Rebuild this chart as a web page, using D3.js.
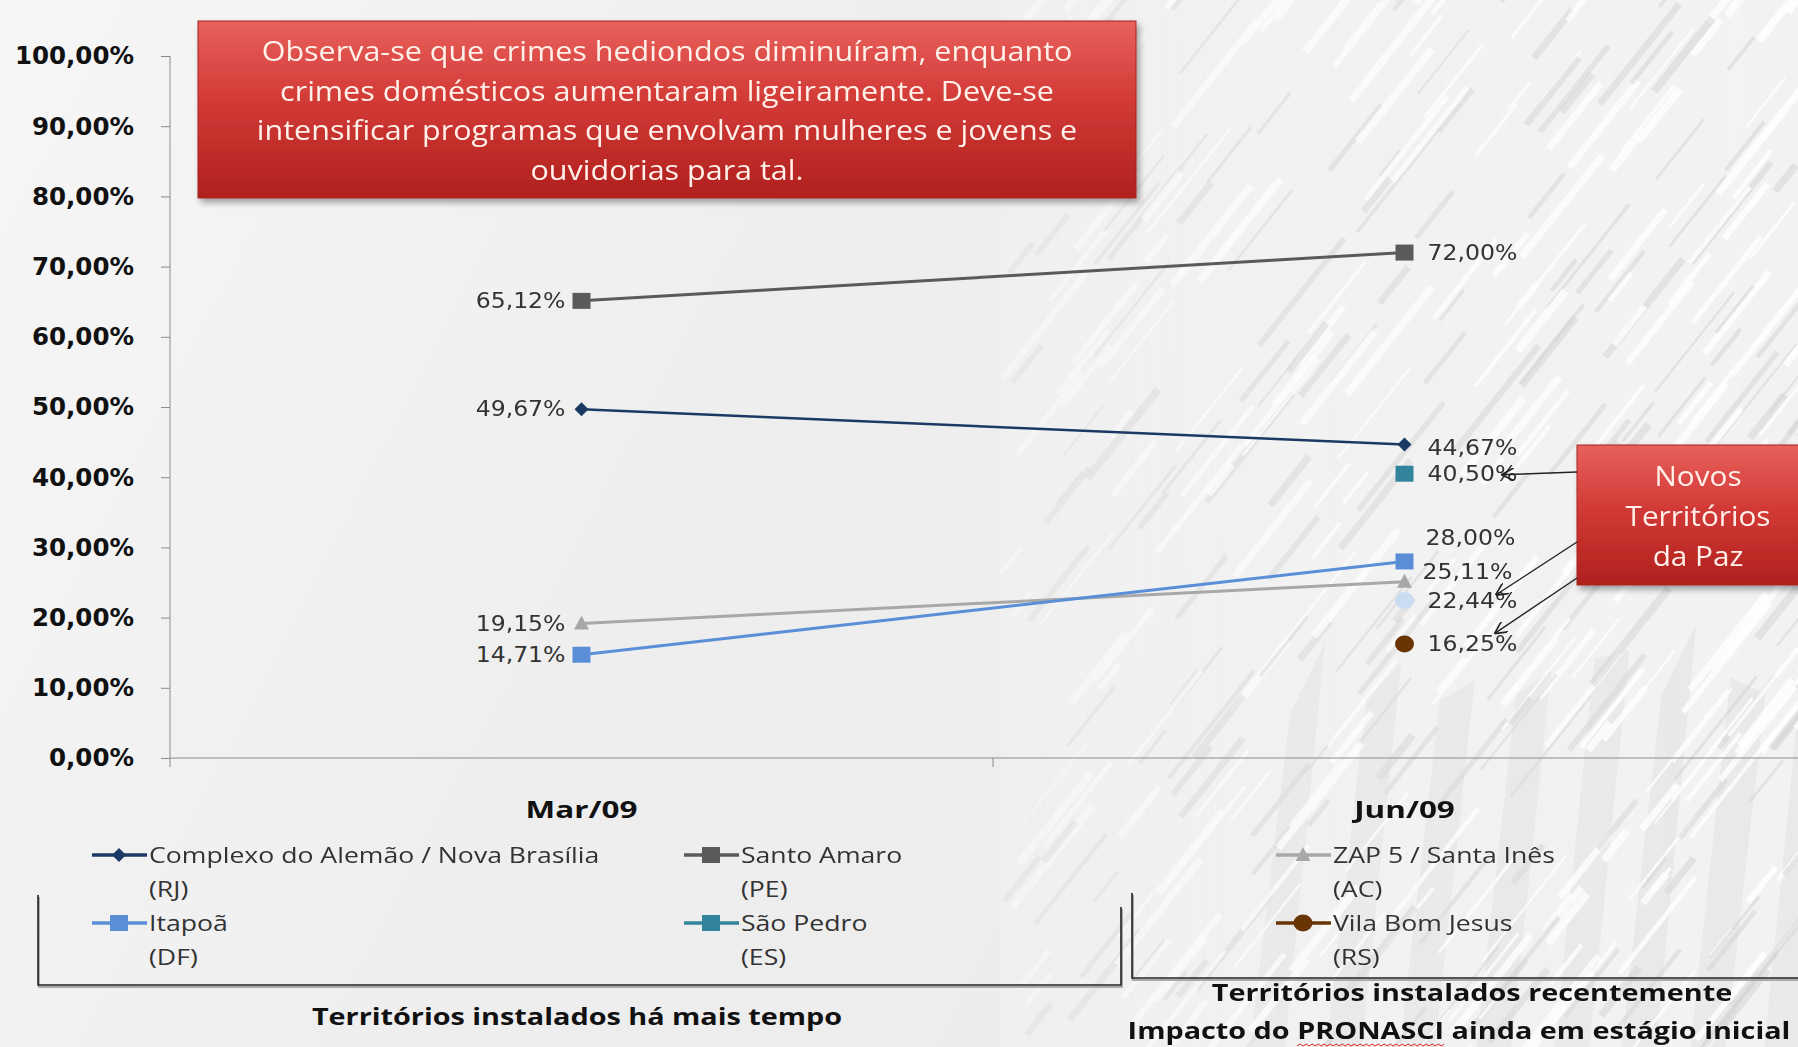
<!DOCTYPE html>
<html>
<head>
<meta charset="utf-8">
<script src="https://cdn.jsdelivr.net/npm/d3@7"></script>
<style>
  body { margin: 0; background: #eeeeee; overflow: hidden; }
  .y-axis path, .x-axis path { stroke: #8c8c8c; }
  .y-axis line, .x-axis line { stroke: #8c8c8c; }
</style>
</head>
<body>
<div class="chart"></div>
<script>
var svgWidth = 1798;
var svgHeight = 1047;

// chart data
var categories = ["Mar/09", "Jun/09"];
var yTicks = [0, 10, 20, 30, 40, 50, 60, 70, 80, 90, 100];

var complexoValues = [49.67, 44.67];
var santoAmaroValues = [65.12, 72.00];
var zapValues = [19.15, 25.11];
var itapoaValues = [14.71, 28.00];
var saoPedroValues = [null, 40.50];
var vilaValues = [null, 16.25];
var extraValues = [null, 22.44];

var seriesNames = [
  ["Complexo do Alemão / Nova Brasília", "(RJ)"],
  ["Santo Amaro", "(PE)"],
  ["ZAP 5 / Santa Inês", "(AC)"],
  ["Itapoã", "(DF)"],
  ["São Pedro", "(ES)"],
  ["Vila Bom Jesus", "(RS)"]
];

var boxText = [
  "Observa-se que crimes hediondos diminuíram, enquanto",
  "crimes domésticos aumentaram ligeiramente. Deve-se",
  "intensificar programas que envolvam mulheres e jovens e",
  "ouvidorias para tal."
];
var novosText = ["Novos", "Territórios", "da Paz"];

var series = [
  { values: complexoValues, name: seriesNames[0], color: "#1b3a63", marker: "diamond", width: 2.5 },
  { values: santoAmaroValues, name: seriesNames[1], color: "#5a5a5a", marker: "square", width: 3 },
  { values: zapValues, name: seriesNames[2], color: "#a8a8a8", marker: "triangle", width: 3 },
  { values: itapoaValues, name: seriesNames[3], color: "#5a8fd8", marker: "square", width: 3 },
  { values: saoPedroValues, name: seriesNames[4], color: "#31849b", marker: "square", width: 3 },
  { values: vilaValues, name: seriesNames[5], color: "#6a3504", marker: "circle", width: 3 },
  { values: extraValues, name: null, color: "#c9dcf2", marker: "circle", width: 3 }
];

// label nudges for crowded points (layout only)
var labelNudge = { "1,0": [0, 3], "1,3": [-2, -24], "1,2": [-5, -10] };

var FONT = "'Open Sans', sans-serif";
var FONT_NUM = "'DejaVu Sans', sans-serif";

var svg = d3.select(".chart")
  .append("svg")
  .attr("width", svgWidth)
  .attr("height", svgHeight);

var defs = svg.append("defs");

// background
var bg = defs.append("linearGradient").attr("id", "bg").attr("x1", 0).attr("x2", 1).attr("y1", 0).attr("y2", 0.3);
bg.append("stop").attr("offset", "0%").attr("stop-color", "#f6f6f6");
bg.append("stop").attr("offset", "50%").attr("stop-color", "#eeeeee");
bg.append("stop").attr("offset", "100%").attr("stop-color", "#ececec");

var redGrad = defs.append("linearGradient").attr("id", "red").attr("x1", 0).attr("x2", 0).attr("y1", 0).attr("y2", 1);
redGrad.append("stop").attr("offset", "0%").attr("stop-color", "#e8605c");
redGrad.append("stop").attr("offset", "45%").attr("stop-color", "#d23a36");
redGrad.append("stop").attr("offset", "100%").attr("stop-color", "#b0201e");

var shadow = defs.append("filter").attr("id", "shadow").attr("x", "-10%").attr("y", "-10%").attr("width", "130%").attr("height", "140%");
shadow.append("feDropShadow").attr("dx", 3).attr("dy", 4).attr("stdDeviation", 3).attr("flood-color", "#000").attr("flood-opacity", 0.35);

var fade = defs.append("linearGradient").attr("id", "fade").attr("x1", 0).attr("x2", 1).attr("y1", 0).attr("y2", 0);
fade.append("stop").attr("offset", "0%").attr("stop-color", "#fff").attr("stop-opacity", 0);
fade.append("stop").attr("offset", "45%").attr("stop-color", "#fff").attr("stop-opacity", 0.2);
fade.append("stop").attr("offset", "70%").attr("stop-color", "#fff").attr("stop-opacity", 0.8);
fade.append("stop").attr("offset", "100%").attr("stop-color", "#fff").attr("stop-opacity", 1);
defs.append("mask").attr("id", "fadeMask")
  .append("rect").attr("x", 0).attr("y", 0).attr("width", svgWidth).attr("height", svgHeight).attr("fill", "url(#fade)");

svg.append("rect").attr("width", svgWidth).attr("height", svgHeight).attr("fill", "url(#bg)");

// building texture on the right (decoration only, fixed seed)
var seed = 7;
function rnd() { seed = (seed * 16807) % 2147483647; return seed / 2147483647; }
var streaks = svg.append("g").attr("mask", "url(#fadeMask)");
streaks.append("rect").attr("x", 1000).attr("y", 0).attr("width", 800).attr("height", svgHeight).attr("fill", "#f7f7f7").attr("opacity", 0.6);
for (var b = 0; b < 9; b++) {
  var bx = 1250 + b * 70 + rnd() * 30;
  streaks.append("path")
    .attr("d", `M${bx},${svgHeight}L${bx + 40},${640 + rnd() * 80}L${bx + 75},${620 + rnd() * 80}L${bx + 35},${svgHeight}Z`)
    .attr("fill", "#dedede").attr("opacity", 0.45);
}
for (var i = 0; i < 420; i++) {
  var x0 = 1000 + rnd() * 850;
  var y0 = rnd() * 1100;
  var len = 30 + rnd() * 110;
  var dark = rnd() < 0.45;
  streaks.append("line")
    .attr("x1", x0).attr("y1", y0)
    .attr("x2", x0 + len * 0.62).attr("y2", y0 - len * 0.78)
    .attr("stroke", dark ? "#d4d4d4" : "#ffffff")
    .attr("stroke-width", 2 + rnd() * 6)
    .attr("opacity", dark ? 0.55 : 0.8);
}

function addText(parent, x, y, str, o) {
  return parent.append("text")
    .attr("transform", `translate(${x},${y}) scale(${o.sx || 1},1)`)
    .attr("text-anchor", o.anchor || "start")
    .attr("dy", "0.35em")
    .style("font-family", o.font || FONT)
    .style("font-size", o.size + "px")
    .style("font-weight", o.weight || "normal")
    .attr("fill", o.fill || "#222")
    .text(str);
}

// scales
var plotLeft = 170, plotTop = 56, plotBottom = 758, plotRight = 1816;
var yScale = d3.scaleLinear().domain([0, 100]).range([plotBottom, plotTop]);
var xScale = d3.scalePoint().domain(categories).range([plotLeft, plotRight]).padding(0.5);
var xBand = d3.scaleBand().domain(categories).range([plotLeft, plotRight]);

var chartGroup = svg.append("g");

// y axis
var yAxis = chartGroup.append("g")
  .classed("y-axis", true)
  .attr("transform", `translate(${plotLeft},0)`)
  .call(d3.axisLeft(yScale).tickValues(yTicks).tickSize(9).tickPadding(27)
    .tickFormat(d => d.toFixed(2).replace(".", ",") + "%"));
yAxis.select(".domain").attr("d", `M0,${plotTop}V${plotBottom + 9}`);
yAxis.selectAll("text")
  .style("font-family", FONT_NUM)
  .style("font-size", "24.5px")
  .style("font-weight", "bold")
  .attr("fill", "#111");

// x axis with ticks between categories
var xAxis = chartGroup.append("g")
  .classed("x-axis", true)
  .attr("transform", `translate(0,${plotBottom})`)
  .call(d3.axisBottom(xBand).tickSize(0).tickFormat(""));
xAxis.select(".domain").attr("d", `M${plotLeft},0H${plotRight}`);
xAxis.selectAll(".sep")
  .data(categories.slice(1))
  .enter()
  .append("line")
  .attr("class", "sep")
  .attr("x1", d => xBand(d)).attr("x2", d => xBand(d))
  .attr("y1", 0).attr("y2", 9);

categories.forEach(function(c) {
  addText(chartGroup, xScale(c), 810, c, { size: 24, weight: "bold", anchor: "middle", sx: 1.31, fill: "#111" });
});

// marker drawing
function drawMarker(g, type, x, y, color, scale) {
  var s = scale || 1;
  if (type === "square") {
    g.append("rect").attr("x", x - 9 * s).attr("y", y - 8 * s).attr("width", 18 * s).attr("height", 16 * s).attr("fill", color);
  } else if (type === "diamond") {
    g.append("path").attr("d", `M${x},${y - 7 * s}L${x + 7 * s},${y}L${x},${y + 7 * s}L${x - 7 * s},${y}Z`).attr("fill", color);
  } else if (type === "triangle") {
    g.append("path").attr("d", `M${x},${y - 8 * s}L${x + 7.5 * s},${y + 6 * s}L${x - 7.5 * s},${y + 6 * s}Z`).attr("fill", color);
  } else {
    g.append("ellipse").attr("cx", x).attr("cy", y).attr("rx", 9.5 * s).attr("ry", 8.5 * s).attr("fill", color);
  }
}

var line = d3.line()
  .defined(d => d.v !== null)
  .x(d => xScale(d.c))
  .y(d => yScale(d.v));

series.forEach(function(s, si) {
  var pts = s.values.map((v, k) => ({ c: categories[k], v: v }));
  chartGroup.append("path")
    .datum(pts)
    .attr("d", line)
    .attr("fill", "none")
    .attr("stroke", s.color)
    .attr("stroke-width", s.width);
  pts.forEach(function(p, k) {
    if (p.v === null) return;
    var x = xScale(p.c), y = yScale(p.v);
    drawMarker(chartGroup, s.marker, x, y, s.color);
    var nudge = labelNudge[k + "," + si] || [0, 0];
    var lbl = p.v.toFixed(2).replace(".", ",") + "%";
    if (k === 0) {
      addText(chartGroup, x - 16 + nudge[0], y + nudge[1], lbl, { font: FONT_NUM, size: 20.5, anchor: "end", sx: 1.15, fill: "#333" });
    } else {
      addText(chartGroup, x + 23 + nudge[0], y + nudge[1], lbl, { font: FONT_NUM, size: 20.5, anchor: "start", sx: 1.15, fill: "#333" });
    }
  });
});

// annotation box
var box = svg.append("g");
box.append("rect").attr("x", 198).attr("y", 21).attr("width", 938).attr("height", 177)
  .attr("fill", "url(#red)").attr("stroke", "#a8221f").attr("filter", "url(#shadow)");
boxText.forEach(function(t, k) {
  addText(box, 667, 52 + k * 39.5, t, { size: 27, anchor: "middle", fill: "#fff0ea", sx: 1.13 });
});

var novos = svg.append("g");
novos.append("rect").attr("x", 1577).attr("y", 445).attr("width", 240).attr("height", 140)
  .attr("fill", "url(#red)").attr("stroke", "#a8221f").attr("filter", "url(#shadow)");
novosText.forEach(function(t, k) {
  addText(novos, 1698, 477 + k * 40, t, { size: 27, anchor: "middle", fill: "#fff0ea", sx: 1.1 });
});

// arrows from the box to the new territories
defs.append("marker").attr("id", "arrow").attr("viewBox", "0 0 10 10").attr("refX", 9).attr("refY", 5)
  .attr("markerWidth", 9).attr("markerHeight", 9).attr("orient", "auto-start-reverse")
  .append("path").attr("d", "M0,0L10,5L0,10").attr("fill", "none").attr("stroke", "#222").attr("stroke-width", 1.3);
var jun = xScale(categories[1]);
var arrows = [
  { from: [1577, 472], to: [jun + 98, yScale(saoPedroValues[1]) + 1] },
  { from: [1577, 542], to: [jun + 92, yScale(extraValues[1]) - 6] },
  { from: [1577, 578], to: [jun + 91, yScale(vilaValues[1]) - 11] }
];
arrows.forEach(function(a) {
  svg.append("line")
    .attr("x1", a.from[0]).attr("y1", a.from[1])
    .attr("x2", a.to[0]).attr("y2", a.to[1])
    .attr("stroke", "#222").attr("stroke-width", 1.4)
    .attr("marker-end", "url(#arrow)");
});

// legend
var legend = svg.append("g");
var legendCols = [92, 684, 1276];
var legendRows = [855, 923];
series.forEach(function(s, si) {
  if (!s.name) return;
  var cx = legendCols[si % 3], cy = legendRows[Math.floor(si / 3)];
  legend.append("line").attr("x1", cx).attr("x2", cx + 55).attr("y1", cy).attr("y2", cy)
    .attr("stroke", s.color).attr("stroke-width", 3.5);
  drawMarker(legend, s.marker, cx + 27, cy, s.color, 1);
  addText(legend, cx + 57, cy, s.name[0], { size: 22, sx: 1.21, fill: "#333" });
  addText(legend, cx + 57, cy + 34, s.name[1], { size: 22, sx: 1.21, fill: "#333" });
});

// brackets grouping the territories
var brackets = svg.append("g").attr("fill", "none");
brackets.append("path").attr("d", "M38,895V985H1121V907").attr("stroke", "#aaa").attr("stroke-width", 2).attr("transform", "translate(1,2)");
brackets.append("path").attr("d", "M38,895V985H1121V907").attr("stroke", "#222").attr("stroke-width", 1.6);
brackets.append("path").attr("d", "M1132,893V978H1798").attr("stroke", "#aaa").attr("stroke-width", 2).attr("transform", "translate(1,2)");
brackets.append("path").attr("d", "M1132,893V978H1798").attr("stroke", "#222").attr("stroke-width", 1.6);

var BOTTOM_SX = 1.2;
addText(svg, 577, 1017, "Territórios instalados há mais tempo", { size: 24, weight: "bold", anchor: "middle", fill: "#111", sx: BOTTOM_SX });
addText(svg, 1472, 993, "Territórios instalados recentemente", { size: 24, weight: "bold", anchor: "middle", fill: "#111", sx: BOTTOM_SX });
var impacto = addText(svg, 1459, 1031, "Impacto do PRONASCI ainda em estágio inicial", { size: 24, weight: "bold", anchor: "middle", fill: "#111", sx: BOTTOM_SX });

// red wavy underline under PRONASCI
var node = impacto.node();
var total = node.getComputedTextLength() * BOTTOM_SX;
var startX = 1459 - total / 2 + node.getSubStringLength(0, 11) * BOTTOM_SX;
var endX = startX + node.getSubStringLength(11, 8) * BOTTOM_SX;
var wave = "M" + startX + ",1046";
for (var wx = startX + 3; wx <= endX; wx += 3) {
  wave += "L" + wx + "," + (Math.round((wx - startX) / 3) % 2 ? 1044 : 1046);
}
svg.append("path").attr("d", wave).attr("fill", "none").attr("stroke", "#e02020").attr("stroke-width", 1);
</script>
</body>
</html>
